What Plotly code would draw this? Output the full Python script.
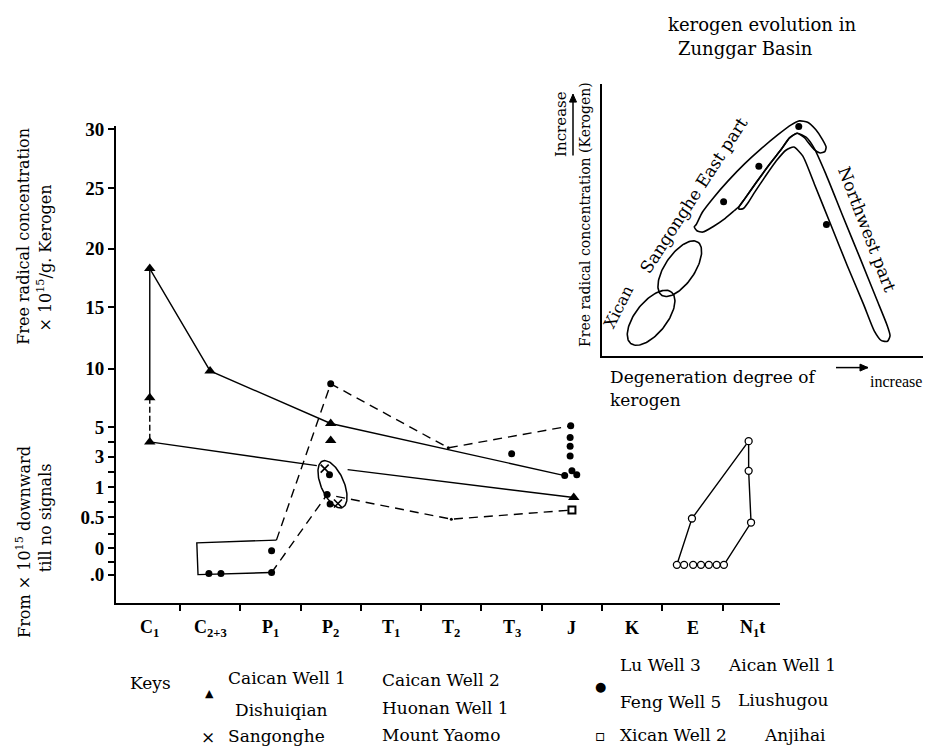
import numpy as np
import plotly.graph_objects as go

W, H = 927, 746
FONT = "DejaVu Serif"
TICKFONT = "Liberation Serif"

# ---------------- main chart: categories & nonlinear y scale ----------------
CATEGORIES = ["C<sub>1</sub>", "C<sub>2+3</sub>", "P<sub>1</sub>", "P<sub>2</sub>", "T<sub>1</sub>",
              "T<sub>2</sub>", "T<sub>3</sub>", "J", "K", "E", "N<sub>1</sub>t"]

# hand-drawn (non-linear) value scale of the original figure: value -> axis position
SCALE_VALUES = [-0.5, -0.25, 0, 0.25, 0.5, 0.75, 1, 2, 3, 4, 5, 10, 15, 20, 25, 30]
SCALE_POS = [29, 42, 56, 70, 87, 102, 117, 133, 148, 163, 178, 237, 299, 358, 419, 479]
Y_TICK_VALUES = [-0.5, 0, 0.5, 1, 3, 5, 10, 15, 20, 25, 30]
Y_TICK_LABELS = [".0", "0", "0.5", "1", "3", "5", "10", "15", "20", "25", "30"]
Y_MINOR_VALUES = [-0.25, 0.25, 0.75, 2, 4]

# Caican Well 1 / Dishuiqian (filled triangles)
TRI_X = [0, 0, 0, 1, 3, 3, 7.03]
TRI_V = [18.3, 7.5, 4.0, 9.8, 5.3, 4.1, 0.83]

# Lu Well 3 / Aican Well 1 / Feng Well 5 / Liushugou (filled dots)
DOT_X = [0.98, 1.18, 2.02, 2.02, 3.0, 2.98, 2.94, 2.99, 6.0, 6.98, 6.97, 6.97, 6.97, 7.0, 7.08, 6.88]
DOT_V = [-0.48, -0.48, -0.46, -0.05, 8.7, 1.8, 0.88, 0.72, 3.2, 5.1, 4.3, 3.7, 3.05, 2.05, 1.8, 1.75]

# Sangonghe (crosses)
CROSS_X = [2.9, 3.12]
CROSS_V = [2.2, 0.73]

# Xican Well 2 / Anjihai (open square)
SQ_X = [7.0]
SQ_V = [0.62]

# open circles (E – N1t)
OC_X = [8.74, 8.86, 9.01, 9.14, 9.27, 9.40, 9.52, 8.99, 9.93, 9.93, 9.97]
OC_V = [-0.31, -0.31, -0.31, -0.31, -0.31, -0.31, -0.31, 0.48, 4.05, 2.05, 0.42]

# connecting lines
SOLID1_X = [0, 1, 3, 6.88]
SOLID1_V = [18.3, 9.8, 5.3, 1.75]
VERT_SOLID_X = [0, 0]
VERT_SOLID_V = [18.3, 7.5]
VERT_DASH_X = [0, 0]
VERT_DASH_V = [7.5, 4.0]
SOLID2A_X = [0, 2.77]
SOLID2A_V = [4.0, 2.4]
SOLID2B_X = [3.28, 7.03]
SOLID2B_V = [2.13, 0.83]
DASH1_X = [2.1, 3.0, 4.95, 6.98]
DASH1_V = [0.14, 8.7, 3.6, 5.1]
DASH2_X = [2.02, 2.94, 5.0, 7.0]
DASH2_V = [-0.46, 0.88, 0.47, 0.62]
BOX_X = [2.1, 0.78, 0.8, 2.0]
BOX_V = [0.14, 0.09, -0.5, -0.46]
POLY_X = [8.74, 8.99, 9.93, 9.93, 9.97, 9.52]
POLY_V = [-0.31, 0.48, 4.05, 2.05, 0.42, -0.31]
VERTEX_X = [4.95, 5.0]
VERTEX_V = [3.6, 0.47]

# Sangonghe grouping ellipse at P2 (center category/value, half-axes in px, tilt deg)
ELL_CENTER = (3.03, 1.2)
ELL_AXES = (25.5, 11.5)
ELL_TILT = 23

# ---------------- inset sketch (arbitrary sketch units) ----------------
EAST_PART = [(322, 665), (340, 628), (375, 582), (420, 530), (470, 478), (520, 432), (570, 390),
             (610, 360), (635, 348), (660, 352), (685, 375), (705, 405), (716, 428), (712, 442),
             (698, 446), (680, 436), (660, 412), (652, 401), (628, 386), (605, 400), (580, 435),
             (545, 480), (505, 535), (470, 585), (452, 610), (438, 622), (410, 646), (375, 670),
             (342, 688), (324, 684), (316, 672), (322, 665)]
NORTHWEST_PART = [(452, 610), (470, 585), (505, 535), (545, 480), (580, 435), (605, 400), (628, 386),
                  (655, 398), (680, 432), (715, 510), (765, 635), (820, 770), (870, 895), (900, 970),
                  (910, 1005), (902, 1022), (884, 1020), (862, 990), (830, 910), (780, 790),
                  (730, 665), (680, 540), (645, 455), (618, 428), (595, 437), (565, 470), (530, 520),
                  (500, 565), (478, 600), (465, 616), (452, 618), (452, 610)]
INSET_DOTS_X = [405, 512, 633, 717]
INSET_DOTS_Y = [595, 487, 365, 665]
XICAN_ELLIPSE = (185, 950, 100, 48, 52)       # cx, cy, a, b, angle
SANGONGHE_ELLIPSE = (272, 800, 98, 45, 56)

# ---------------- helpers ----------------
def yv(v):
    return np.interp(v, SCALE_VALUES, SCALE_POS)

def P(px, py):
    return px / W, 1 - py / H

X_RANGE = [-0.56, 10.45]
X_DOM = [116 / W, 780 / W]
PX_PER_CAT = (X_DOM[1] - X_DOM[0]) * W / (X_RANGE[1] - X_RANGE[0])

fig = go.Figure()
line_w = 1.4
DASH = "9px,6px"

def add_line(x, v, dash="solid"):
    fig.add_trace(go.Scatter(x=x, y=yv(v), mode="lines",
                             line=dict(color="black", width=line_w, dash=dash),
                             showlegend=False, hoverinfo="skip"))

add_line(SOLID1_X, SOLID1_V)
add_line(VERT_SOLID_X, VERT_SOLID_V)
add_line(VERT_DASH_X, VERT_DASH_V, "6px,3px")
add_line(SOLID2A_X, SOLID2A_V)
add_line(SOLID2B_X, SOLID2B_V)
add_line(DASH1_X, DASH1_V, DASH)
add_line(DASH2_X, DASH2_V, DASH)
add_line(BOX_X, BOX_V)
add_line(POLY_X, POLY_V)

# ellipse
t = np.linspace(0, 2 * np.pi, 120)
a, b = ELL_AXES
th = np.radians(ELL_TILT)
maj = np.array([np.sin(th), np.cos(th)])      # screen px direction (down positive)
mnr = np.array([np.cos(th), -np.sin(th)])
dx = a * np.cos(t) * maj[0] + b * np.sin(t) * mnr[0]
dy = a * np.cos(t) * maj[1] + b * np.sin(t) * mnr[1]
fig.add_trace(go.Scatter(x=ELL_CENTER[0] + dx / PX_PER_CAT, y=yv(ELL_CENTER[1]) - dy,
                         mode="lines", line=dict(color="black", width=1.5),
                         showlegend=False, hoverinfo="skip"))

fig.add_trace(go.Scatter(x=VERTEX_X, y=yv(VERTEX_V), mode="markers",
                         marker=dict(symbol="circle", size=3, color="black"),
                         showlegend=False, hoverinfo="skip"))
fig.add_trace(go.Scatter(x=TRI_X, y=yv(TRI_V), mode="markers",
                         marker=dict(symbol="triangle-up", size=10, color="black"),
                         showlegend=False, hoverinfo="skip"))
fig.add_trace(go.Scatter(x=DOT_X, y=yv(DOT_V), mode="markers",
                         marker=dict(symbol="circle", size=7, color="black"),
                         showlegend=False, hoverinfo="skip"))
fig.add_trace(go.Scatter(x=CROSS_X, y=yv(CROSS_V), mode="markers",
                         marker=dict(symbol="x-thin", size=8, color="black",
                                     line=dict(color="black", width=1.6)),
                         showlegend=False, hoverinfo="skip"))
fig.add_trace(go.Scatter(x=SQ_X, y=yv(SQ_V), mode="markers",
                         marker=dict(symbol="square", size=7, color="white",
                                     line=dict(color="black", width=2)),
                         showlegend=False, hoverinfo="skip"))
fig.add_trace(go.Scatter(x=OC_X, y=yv(OC_V), mode="markers",
                         marker=dict(symbol="circle", size=7, color="white",
                                     line=dict(color="black", width=1.3)),
                         showlegend=False, hoverinfo="skip"))

# ---------------- inset traces ----------------
def add_inset_path(pts):
    xs = [p[0] for p in pts]
    ys = [p[1] for p in pts]
    fig.add_trace(go.Scatter(x=xs, y=ys, xaxis="x2", yaxis="y2", mode="lines",
                             line=dict(color="black", width=1.6, shape="spline", smoothing=0.6),
                             showlegend=False, hoverinfo="skip"))

add_inset_path(EAST_PART)
add_inset_path(NORTHWEST_PART)
for cx, cy, ea, eb, ang in (XICAN_ELLIPSE, SANGONGHE_ELLIPSE):
    ph = np.radians(ang)
    ex = cx + ea * np.cos(t) * np.cos(ph) - eb * np.sin(t) * np.sin(ph)
    ey = cy - ea * np.cos(t) * np.sin(ph) - eb * np.sin(t) * np.cos(ph)
    fig.add_trace(go.Scatter(x=ex, y=ey, xaxis="x2", yaxis="y2", mode="lines",
                             line=dict(color="black", width=1.6),
                             showlegend=False, hoverinfo="skip"))
fig.add_trace(go.Scatter(x=INSET_DOTS_X, y=INSET_DOTS_Y, xaxis="x2", yaxis="y2", mode="markers",
                         marker=dict(symbol="circle", size=7, color="black"),
                         showlegend=False, hoverinfo="skip"))

# ---------------- annotations ----------------
ann = []

def text(px, py, s, size=16, angle=0, bold=False, xanchor="center", family=FONT):
    x, y = P(px, py)
    ann.append(dict(x=x, y=y, xref="paper", yref="paper", text=f"<b>{s}</b>" if bold else s,
                    showarrow=False, textangle=angle, xanchor=xanchor, yanchor="middle",
                    font=dict(family=family, size=size, color="black")))

# category labels below axis
for i, lab in enumerate(CATEGORIES):
    ann.append(dict(x=i, y=P(0, 627)[1], xref="x", yref="paper", text=f"<b>{lab}</b>",
                    showarrow=False, xanchor="center", yanchor="middle",
                    font=dict(family=TICKFONT, size=18, color="black")))

# main y titles
text(24, 232, "Free radical concentration", 16, -90)
text(45, 254, "× 10<sup>15</sup>/g. Kerogen", 16, -90)
text(24, 540, "From × 10<sup>15</sup> downward", 16, -90)
text(45, 516, "till no signals", 16, -90)

# legend keys
text(150, 682, "Keys", 17)
text(209, 693, "▲", 11)
text(226, 677, "Caican Well 1", 17, xanchor="left")
text(233, 710, "Dishuiqian", 17, xanchor="left")
text(208, 737, "×", 17)
text(226, 736, "Sangonghe", 17, xanchor="left")
text(380, 679, "Caican Well 2", 17, xanchor="left")
text(380, 708, "Huonan Well 1", 17, xanchor="left")
text(380, 735, "Mount Yaomo", 17, xanchor="left")
text(600, 686, "●", 13)
text(618, 664, "Lu Well 3", 17, xanchor="left")
text(726, 664, "Aican Well 1", 17, xanchor="left")
text(618, 702, "Feng Well 5", 17, xanchor="left")
text(736, 700, "Liushugou", 17, xanchor="left")
text(600, 735, "▫", 16)
text(618, 735, "Xican Well 2", 17, xanchor="left")
text(762, 735, "Anjihai", 17, xanchor="left")

# inset texts
text(762, 18, "kerogen evolution in", 18)
text(745, 42, "Zunggar Basin", 18)
text(618, 303, "Xican", 16, -63)
text(694, 190, "Sangonghe East part", 17, -57)
text(867, 224, "Northwest part", 17, 69)
text(713, 373, "Degeneration degree of", 17)
text(608, 397, "kerogen", 17, xanchor="left")
text(896, 378, "increase", 16, family=TICKFONT)
text(585, 210, "Free radical concentration (Kerogen)", 14, -90)
text(561, 118, "Increase", 15, -90)

# arrows (drawn as shapes in page pixels)
shapes = []

def arrow(x0, y0, x1, y1):
    X0, Y0 = P(x0, y0)
    X1, Y1 = P(x1, y1)
    shapes.append(dict(type="line", xref="paper", yref="paper", x0=X0, y0=Y0, x1=X1, y1=Y1,
                       line=dict(color="black", width=1.5)))
    ux, uy = x1 - x0, y1 - y0
    n = (ux ** 2 + uy ** 2) ** 0.5
    ux, uy = ux / n, uy / n
    hl, hw = 8, 3.5
    bx, by = x1 - ux * hl, y1 - uy * hl
    pts = [(x1, y1), (bx - uy * hw, by + ux * hw), (bx + uy * hw, by - ux * hw)]
    path = "M " + " L ".join(f"{p[0] / W:.5f},{1 - p[1] / H:.5f}" for p in pts) + " Z"
    shapes.append(dict(type="path", xref="paper", yref="paper", path=path,
                       fillcolor="black", line=dict(color="black", width=1)))

arrow(836, 364, 868, 364)
arrow(573, 150, 573, 88)

fig.update_layout(
    width=W, height=H, margin=dict(l=0, r=0, t=0, b=0),
    paper_bgcolor="white", plot_bgcolor="white", showlegend=False, hovermode=False,
    annotations=ann, shapes=shapes,
    xaxis=dict(domain=X_DOM, range=X_RANGE, showline=True, linecolor="black", linewidth=2,
               showticklabels=False, ticks="",
               minor=dict(tickmode="array", tickvals=[i + 0.5 for i in range(10)], ticks="outside",
                          ticklen=6, tickwidth=1.5, tickcolor="black", showgrid=False),
               showgrid=False, zeroline=False, fixedrange=True),
    yaxis=dict(domain=[(H - 602) / H, (H - 120) / H], range=[0, 482], showline=True,
               linecolor="black", linewidth=2, tickmode="array",
               tickvals=list(yv(Y_TICK_VALUES)), ticktext=Y_TICK_LABELS,
               ticks="outside", ticklen=6, tickwidth=1.5, tickcolor="black",
               minor=dict(tickmode="array", tickvals=list(yv(Y_MINOR_VALUES)), ticks="outside",
                          ticklen=6, tickwidth=1.5, tickcolor="black", showgrid=False),
               tickfont=dict(family=TICKFONT, size=19, color="black", weight="bold"),
               showgrid=False, zeroline=False, fixedrange=True),
    xaxis2=dict(domain=[602 / W, 923 / W], range=[36, 1010], anchor="y2", showline=True,
                linecolor="black", linewidth=2, showticklabels=False, ticks="", showgrid=False,
                zeroline=False, fixedrange=True),
    yaxis2=dict(domain=[(H - 352) / H, (H - 78) / H], range=[1066, 236], anchor="x2",
                showline=True, linecolor="black", linewidth=2, showticklabels=False, ticks="",
                showgrid=False, zeroline=False, fixedrange=True),
)

fig.write_html("out.html", config={"displayModeBar": False},
               post_script="document.body.style.margin='0';document.body.style.overflow='hidden';")
